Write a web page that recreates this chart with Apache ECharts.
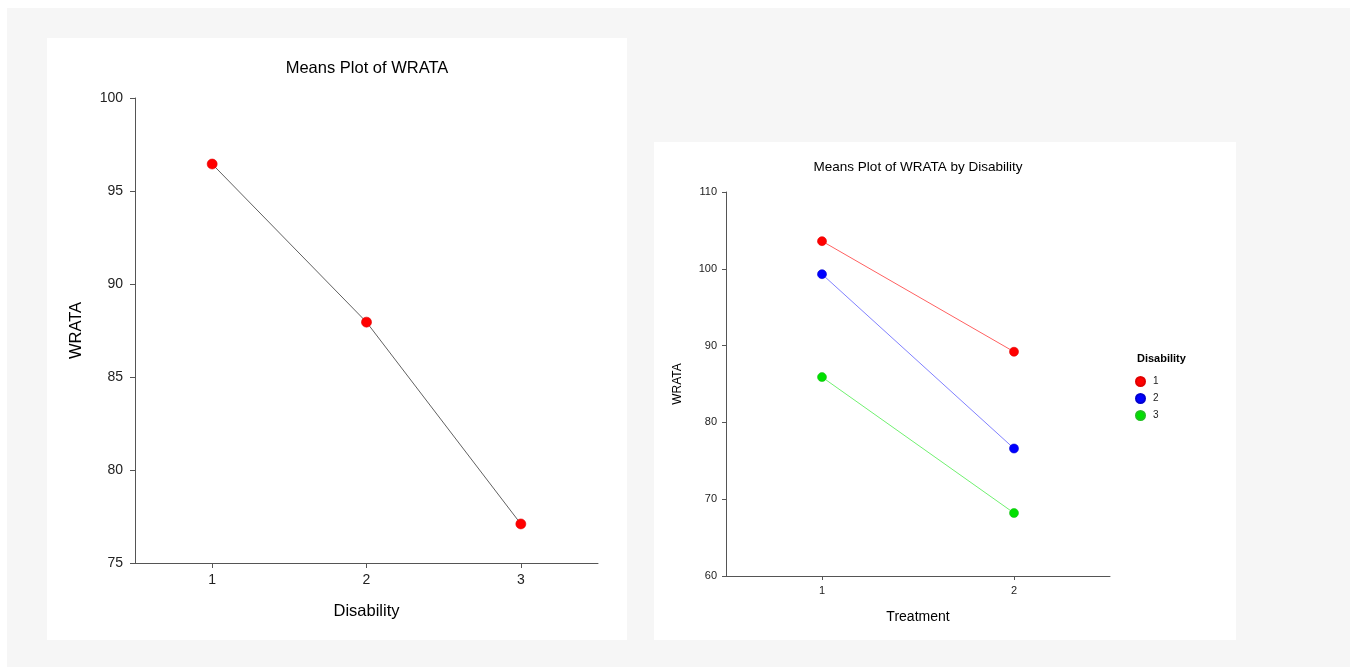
<!DOCTYPE html>
<html><head><meta charset="utf-8">
<script src="https://cdn.jsdelivr.net/npm/echarts@6/dist/echarts.min.js"></script>
<style>
html,body{margin:0;padding:0;background:#fff;width:1360px;height:667px;overflow:hidden;}
#bg{position:absolute;left:7px;top:8px;width:1343px;height:659px;background:#f6f6f6;}
.panel{position:absolute;background:#fff;}
#chart{position:absolute;left:0;top:0;width:1360px;height:667px;}
</style></head>
<body>
<div id="bg"></div>
<div class="panel" style="left:47px;top:38px;width:580px;height:602px;"></div>
<div class="panel" style="left:654px;top:142px;width:582px;height:498px;"></div>
<div id="chart"></div>
<script>
// Left chart: means by Disability
const disabilityLevels = [1, 2, 3];
const wrataByDisability = [96.45, 87.95, 77.1];
// Right chart: means by Treatment for each Disability
const treatmentLevels = [1, 2];
const groupNames = ['1', '2', '3'];
const group1 = [103.6, 89.2];
const group2 = [99.3, 76.6];
const group3 = [85.9, 68.2];
const leftYTicks = [75, 100, 5];
const rightYTicks = [60, 110, 10];

const font = 'Liberation Sans, Arial, sans-serif';
const chart = echarts.init(document.getElementById('chart'), null, {renderer: 'canvas'});

const pairs = (xs, ys) => xs.map((x, i) => [x, ys[i]]);
const groups = [group1, group2, group3];
const markerColors = ['#ff0000', '#0000ff', '#00e000'];
const lineColors = ['#ff6060', '#8080ff', '#70f070'];
const borderColors = ['#e00000', '#0000d0', '#20c020'];

const axisLineStyle = {color: '#555', width: 1};

const option = {
  animation: false,
  backgroundColor: 'transparent',
  textStyle: {fontFamily: font},
  title: [
    {text: 'Means Plot of WRATA', left: 362, top: 55, textAlign: 'center',
     textStyle: {fontSize: 16.5, fontWeight: 'normal', color: '#000', fontFamily: font}},
    {text: 'Means Plot of WRATA by Disability', left: 913, top: 155, textAlign: 'center',
     textStyle: {fontSize: 13.5, fontWeight: 'normal', color: '#000', fontFamily: font}},
    {text: 'Disability', left: 1132, top: 348,
     textStyle: {fontSize: 11, fontWeight: 'bold', color: '#000', fontFamily: font}}
  ],
  grid: [
    {left: 135, top: 98, width: 463, height: 465},
    {left: 726, top: 192, width: 384, height: 384}
  ],
  xAxis: [
    {gridIndex: 0, type: 'value', min: 0.5, max: 3.5,
     axisLine: {lineStyle: axisLineStyle}, splitLine: {show: false},
     axisTick: {length: 5, lineStyle: axisLineStyle, customValues: disabilityLevels},
     axisLabel: {fontSize: 14, color: '#222', margin: 10, customValues: disabilityLevels},
     name: 'Disability', nameLocation: 'middle', nameGap: 40,
     nameTextStyle: {fontSize: 16.5, color: '#000'}},
    {gridIndex: 1, type: 'value', min: 0.5, max: 2.5,
     axisLine: {lineStyle: axisLineStyle}, splitLine: {show: false},
     axisTick: {length: 4, lineStyle: axisLineStyle, customValues: treatmentLevels},
     axisLabel: {fontSize: 11, color: '#222', margin: 9, customValues: treatmentLevels},
     name: 'Treatment', nameLocation: 'middle', nameGap: 34,
     nameTextStyle: {fontSize: 14, color: '#000'}}
  ],
  yAxis: [
    {gridIndex: 0, type: 'value', min: leftYTicks[0], max: leftYTicks[1], interval: leftYTicks[2],
     axisLine: {show: true, lineStyle: axisLineStyle}, splitLine: {show: false},
     axisTick: {show: true, length: 5, lineStyle: axisLineStyle},
     axisLabel: {fontSize: 14, color: '#222', margin: 12},
     name: 'WRATA', nameLocation: 'middle', nameGap: 50,
     nameTextStyle: {fontSize: 16.5, color: '#000'}},
    {gridIndex: 1, type: 'value', min: rightYTicks[0], max: rightYTicks[1], interval: rightYTicks[2],
     axisLine: {show: true, lineStyle: axisLineStyle}, splitLine: {show: false},
     axisTick: {show: true, length: 4, lineStyle: axisLineStyle},
     axisLabel: {fontSize: 11, color: '#222', margin: 9},
     name: 'WRATA', nameLocation: 'middle', nameGap: 42,
     nameTextStyle: {fontSize: 12, color: '#000'}}
  ],
  legend: {
    orient: 'vertical', left: 1130, top: 371, itemGap: 6,
    itemWidth: 9, itemHeight: 9, icon: 'circle',
    data: groupNames,
    textStyle: {fontSize: 10, color: '#222', fontFamily: font, padding: [0,0,0,3]}
  },
  series: [
    {type: 'line', xAxisIndex: 0, yAxisIndex: 0, name: 'all',
     data: pairs(disabilityLevels, wrataByDisability),
     symbol: 'circle', symbolSize: 10,
     lineStyle: {color: '#606060', width: 1},
     itemStyle: {color: '#ff0000', borderColor: '#e00000', borderWidth: 0.6}}
  ].concat(groups.map((g, i) => ({
    type: 'line', xAxisIndex: 1, yAxisIndex: 1, name: groupNames[i],
    data: pairs(treatmentLevels, g),
    symbol: 'circle', symbolSize: 9,
    lineStyle: {color: lineColors[i], width: 1},
    itemStyle: {color: markerColors[i], borderColor: borderColors[i], borderWidth: 0.6}
  })))
};
chart.setOption(option);
</script>
</body></html>
